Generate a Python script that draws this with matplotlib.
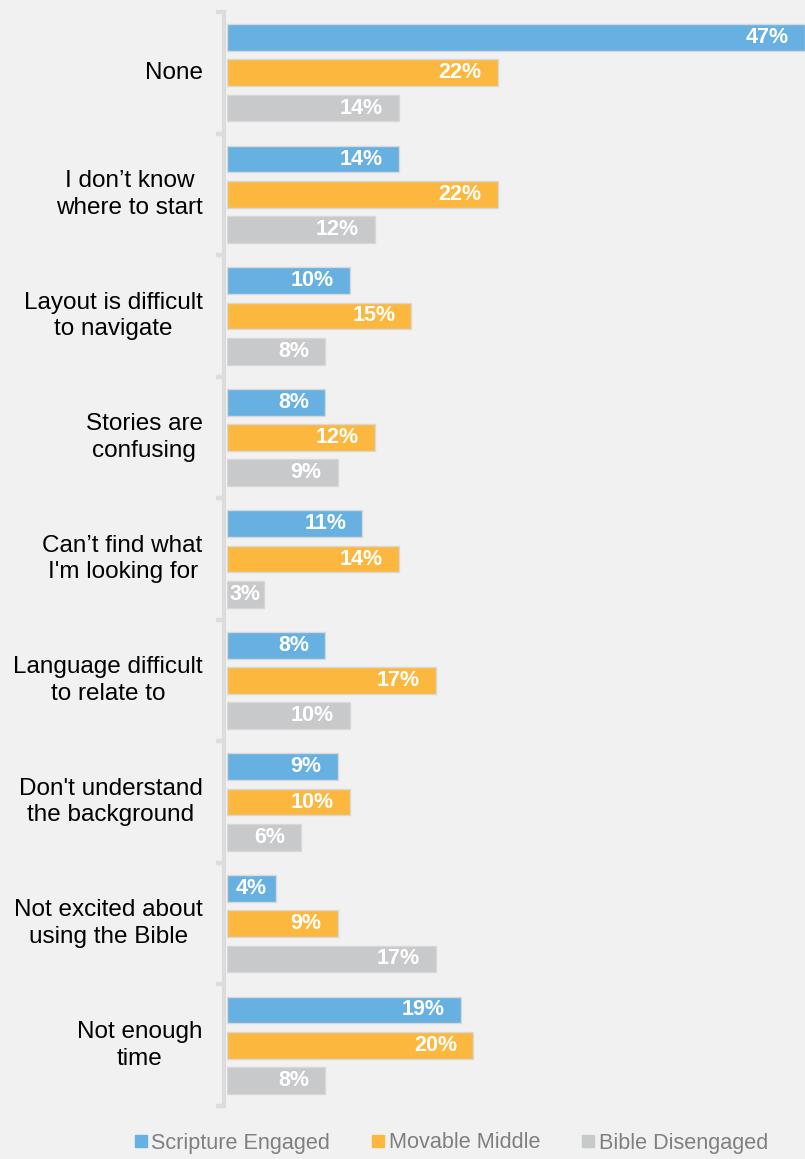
import matplotlib
matplotlib.use("Agg")
import matplotlib.pyplot as plt
from matplotlib.lines import Line2D

# Barriers to Bible reading, by engagement segment (%)
categories = [
    "None",
    "I don\u2019t know\nwhere to start",
    "Layout is difficult\nto navigate",
    "Stories are\nconfusing",
    "Can\u2019t find what\nI'm looking for",
    "Language difficult\nto relate to",
    "Don't understand\nthe background",
    "Not excited about\nusing the Bible",
    "Not enough\ntime",
]
series_names = ["Scripture Engaged", "Movable Middle", "Bible Disengaged"]
scripture_engaged = [47, 14, 10, 8, 11, 8, 9, 4, 19]
movable_middle = [22, 22, 15, 12, 14, 17, 10, 9, 20]
bible_disengaged = [14, 12, 8, 9, 3, 10, 6, 17, 8]

colors = ["#66b0e2", "#fcb83e", "#c8c9cb"]
bg = "#f1f1f1"
axis_grey = "#dcdcdc"

plt.rcParams["font.family"] = ["Liberation Sans", "DejaVu Sans"]

fig = plt.figure(figsize=(8.05, 11.59), dpi=100, facecolor=bg)
ax = fig.add_axes([227 / 805, 1 - 1106 / 1159, 1 - 227 / 805, (1106 - 12) / 1159])
ax.set_facecolor(bg)

n = len(categories)
pitch = 0.29
height = 0.22
xmax = 47
ax.set_xlim(0, xmax)
ax.set_ylim(n, 0)

fig.canvas.draw()
renderer = fig.canvas.get_renderer()
px_per_unit = ax.bbox.width / xmax
pt_per_px = 72 / fig.dpi

all_series = [scripture_engaged, movable_middle, bible_disengaged]
for s, (vals, col) in enumerate(zip(all_series, colors)):
    ys = [i + 0.5 + (s - 1) * pitch for i in range(n)]
    ax.barh(ys, vals, height=height, color=col, edgecolor="#d8d8d8",
            linewidth=1.0, zorder=2)
    for y, v in zip(ys, vals):
        t = ax.annotate(f"{v}%", xy=(v, y), xytext=(0, 0),
                        textcoords="offset points", ha="right", va="center",
                        color="white", fontsize=15.5, fontweight="bold", zorder=3)
        # keep the label inside short bars: inset shrinks with the free space
        label_px = t.get_window_extent(renderer).width
        bar_px = v * px_per_unit
        inset_px = min(16, max(2, (bar_px - label_px) / 2))
        t.xyann = (-inset_px * pt_per_px, 0)

for i, cat in enumerate(categories):
    ax.annotate(cat, xy=(0, i + 0.5), xycoords=("axes fraction", "data"),
                xytext=(-17.5, 0), textcoords="offset points",
                ha="right", va="center", multialignment="center",
                fontsize=17.5, color="#000000", linespacing=1.28)

for side in ["top", "right", "bottom"]:
    ax.spines[side].set_visible(False)
ax.spines["left"].set_color(axis_grey)
ax.spines["left"].set_linewidth(2.9)
ax.spines["left"].set_position(("outward", 2.0))
ax.set_xticks([])
ax.set_yticks(range(n + 1))
ax.set_yticklabels([])
ax.tick_params(axis="y", length=6.0, width=3.2, color=axis_grey, direction="out")

handles = [Line2D([], [], marker="s", linestyle="none", markersize=8.0,
                  markerfacecolor=c, markeredgecolor=c) for c in colors]
fig.legend(handles, series_names, loc="center", ncol=3,
           bbox_to_anchor=(451 / 805, 1 - 1143 / 1159), frameon=False,
           fontsize=15.6, labelcolor="#7f7f7f", handlelength=0.6,
           handletextpad=0.2, columnspacing=1.9, borderpad=0)

fig.savefig("out.png", dpi=100, facecolor=bg)
